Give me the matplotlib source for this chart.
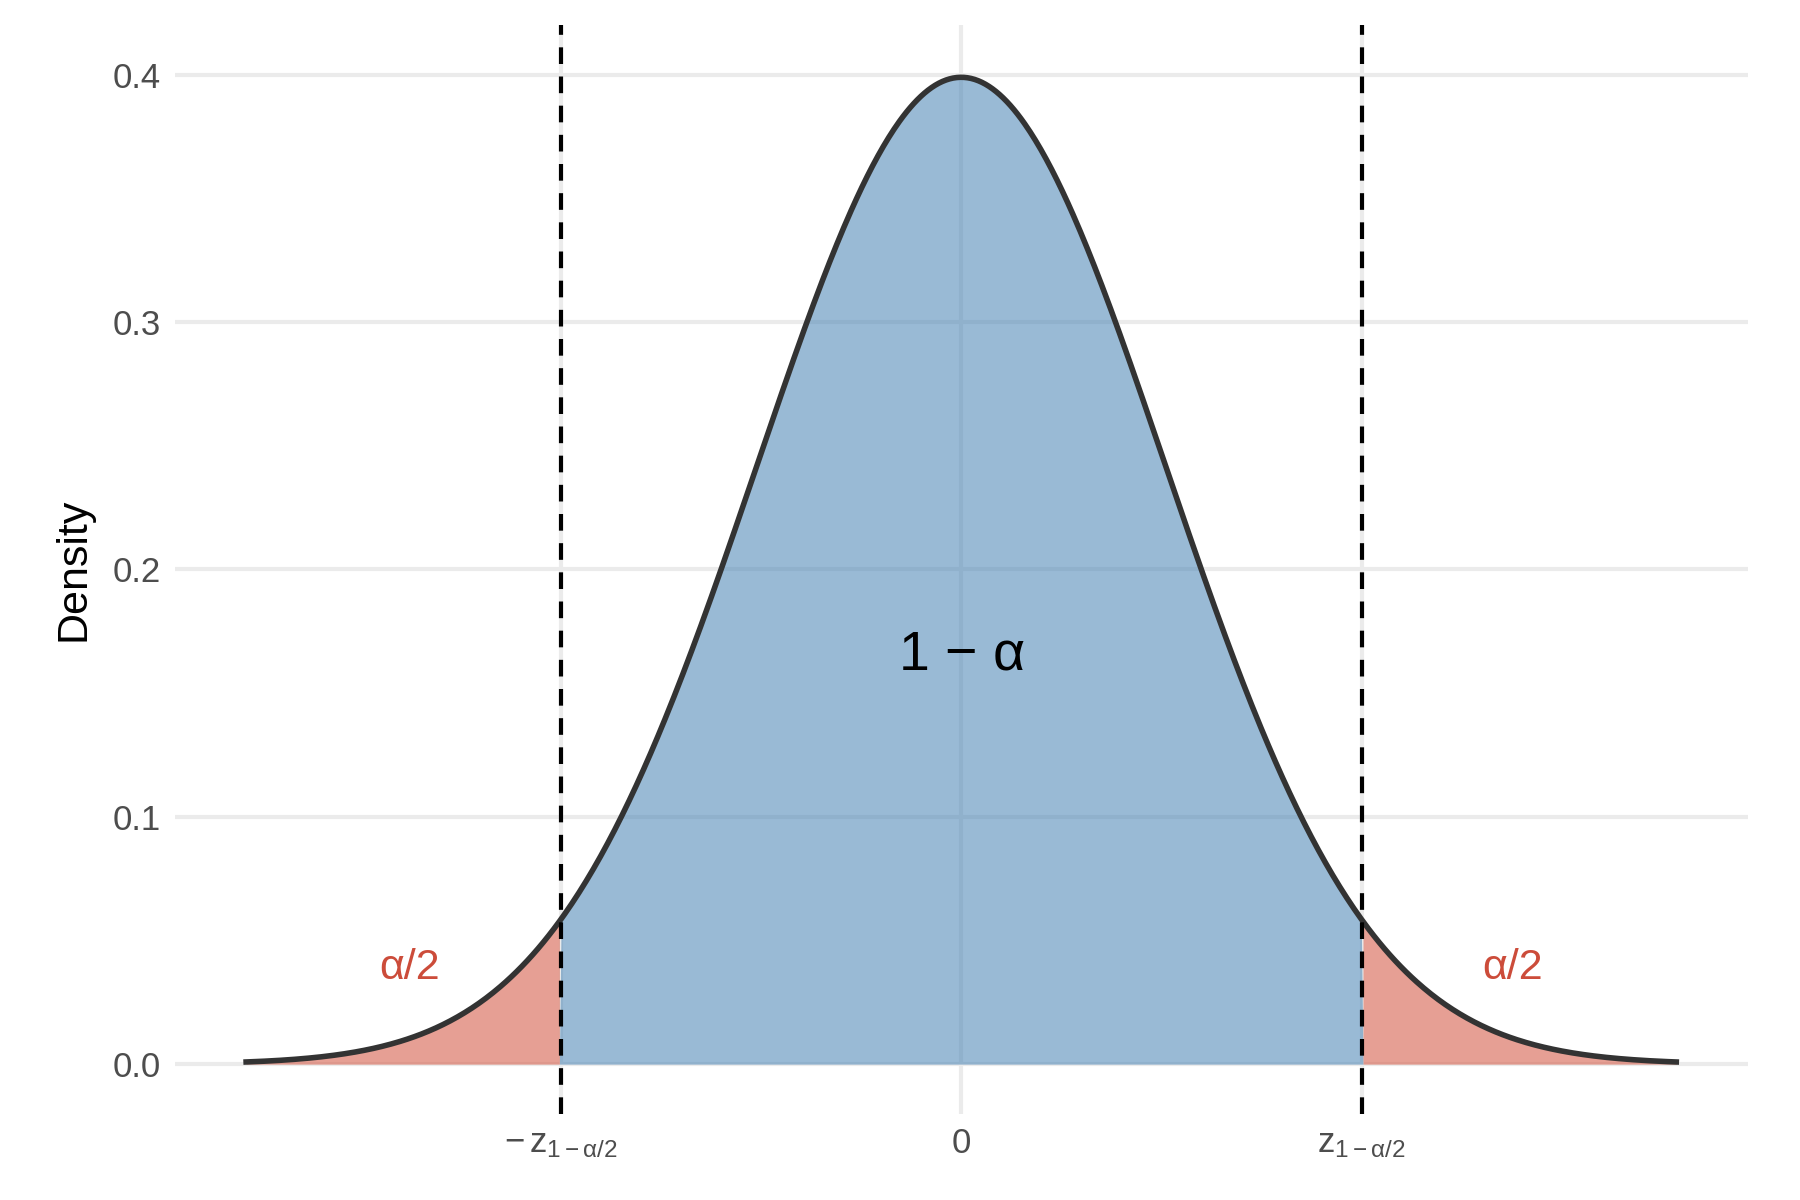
from matplotlib import pyplot as plt
import numpy as np

plt.rcParams['font.family'] = ['Liberation Sans', 'DejaVu Sans']
plt.rcParams['mathtext.fontset'] = 'custom'
plt.rcParams['mathtext.rm'] = 'Liberation Sans'
plt.rcParams['mathtext.it'] = 'Liberation Sans'

z_crit = 1.96
x_lo, x_hi = -3.5, 3.5
x_ticks = [-z_crit, 0, z_crit]
x_tick_labels = [r'$-\,\mathrm{z}_{1-\alpha/2}$', '0', r'$\mathrm{z}_{1-\alpha/2}$']
y_ticks = [0.0, 0.1, 0.2, 0.3, 0.4]

x = np.linspace(x_lo, x_hi, 800)
y = np.exp(-x ** 2 / 2) / np.sqrt(2 * np.pi)

fig = plt.figure(figsize=(18, 12), dpi=100)
ax = fig.add_axes([0.097, 0.072, 0.874, 0.907])

ax.set_axisbelow(True)
ax.grid(True, color='#ebebeb', linewidth=3)
mid = np.abs(x) <= z_crit
ax.fill_between(x, 0, y, where=mid, color='#4682B4', alpha=0.55, linewidth=0, interpolate=True)
ax.fill_between(x, 0, y, where=x <= -z_crit, color='#d6604d', alpha=0.6, linewidth=0, interpolate=True)
ax.fill_between(x, 0, y, where=x >= z_crit, color='#d6604d', alpha=0.6, linewidth=0, interpolate=True)
ax.plot(x, y, color='#333333', linewidth=4)
for v in [-z_crit, z_crit]:
    ax.axvline(v, color='black', linestyle=(0, (4, 3)), linewidth=3)

ax.text(0, 0.165, r'1 $-$ α', fontsize=40, ha='center', va='center', color='black')
ax.text(-2.7, 0.039, 'α/2', fontsize=31, ha='center', va='center', color='#cc4c3a')
ax.text(2.7, 0.039, 'α/2', fontsize=31, ha='center', va='center', color='#cc4c3a')

ax.set_xlim(-3.85, 3.85)
ax.set_ylim(-0.02, 0.42)
ax.set_xticks(x_ticks)
ax.set_xticklabels(x_tick_labels)
ax.set_yticks(y_ticks)
ax.set_yticklabels(['{:.1f}'.format(t) for t in y_ticks])
ax.tick_params(length=0, labelsize=25, labelcolor='#4d4d4d', pad=10)
ax.set_ylabel('Density', fontsize=31, labelpad=14)
for s in ax.spines.values():
    s.set_visible(False)

plt.savefig('out.png')
